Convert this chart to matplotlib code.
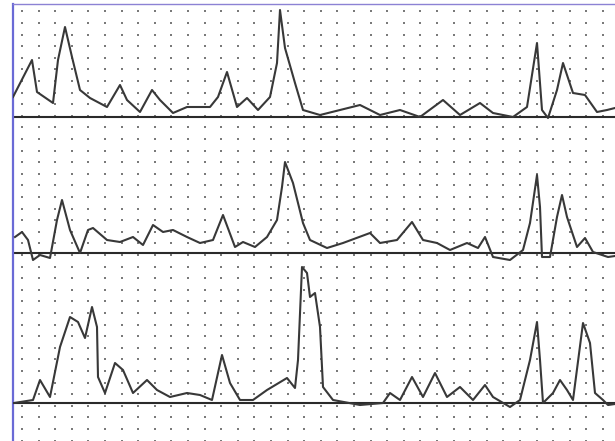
import numpy as np
import matplotlib
matplotlib.use("Agg")
import matplotlib.pyplot as plt

# === Trace data (time units, signal height above each baseline) ===
t_top = [0, 19, 24, 40, 45, 52, 59, 67, 77, 94, 107, 114, 127, 139, 147, 160, 174, 197,
         205, 214, 224, 234, 245, 257, 264, 267, 272, 282, 290, 307, 327, 347, 367, 387,
         407, 430, 447, 467, 480, 500, 514, 524, 529, 535, 544, 550, 560, 572, 584, 594, 602]
h_top = [20, 57, 25, 14, 57, 90, 60, 27, 19, 10, 32, 17, 5, 27, 17, 4, 10, 10,
         20, 45, 10, 19, 7, 20, 54, 107, 69, 34, 7, 2, 7, 12, 2, 7,
         0, 17, 2, 14, 4, 0, 10, 74, 7, -1, 27, 54, 24, 22, 5, 7, 9]

t_mid = [2, 9, 15, 20, 27, 37, 44, 49, 57, 67, 75, 80, 94, 107, 120, 130, 140, 150, 160,
         174, 187, 200, 210, 222, 230, 242, 254, 264, 269, 272, 280, 290, 297, 314, 330,
         357, 367, 384, 399, 410, 424, 437, 454, 465, 472, 480, 497, 510, 517, 524, 527,
         529, 537, 544, 549, 554, 564, 572, 580, 595, 602]
h_mid = [16, 21, 13, -7, -2, -5, 33, 53, 23, 0, 23, 25, 13, 11, 16, 8, 28, 21, 23,
         16, 10, 13, 38, 6, 11, 6, 16, 33, 66, 91, 70, 30, 13, 5, 10,
         20, 10, 13, 31, 13, 10, 3, 10, 5, 16, -4, -7, 3, 30, 78, 46,
         -4, -4, 36, 58, 36, 6, 15, 1, -4, -3]

t_bot = [1, 20, 27, 37, 47, 57, 65, 72, 79, 84, 85, 92, 102, 110, 120, 134, 144, 157,
         174, 187, 199, 209, 217, 227, 240, 254, 274, 282, 285, 289, 294, 297, 302, 307,
         310, 320, 347, 370, 377, 387, 399, 410, 422, 434, 447, 460, 472, 480, 497, 507,
         517, 524, 527, 530, 540, 547, 554, 560, 570, 577, 582, 590, 595, 602]
h_bot = [0, 3, 23, 6, 56, 86, 81, 65, 96, 76, 26, 10, 40, 33, 10, 23, 13, 6,
         10, 8, 3, 48, 20, 3, 3, 13, 25, 15, 43, 136, 130, 106, 110, 76,
         16, 3, -2, 0, 10, 3, 26, 6, 30, 6, 16, 3, 18, 6, -4, 3,
         43, 81, 43, 0, 10, 23, 13, 3, 80, 60, 10, 3, -2, -1]

traces = [(t_top, h_top, 324), (t_mid, h_mid, 188), (t_bot, h_bot, 38)]

fig = plt.figure(figsize=(6.15, 4.41), dpi=100)
ax = fig.add_axes([13 / 615, 0, 602 / 615, 437 / 441])
ax.set_xlim(0, 602)
ax.set_ylim(0, 437)

# dotted background grid
gx = np.arange(9, 602, 16.6)
gy = np.arange(441 - 11.4, 0, -11.6)
GX, GY = np.meshgrid(gx, gy)
ax.scatter(GX.ravel(), GY.ravel(), s=2.6, marker='s', color='#7a7a7a', linewidths=0, zorder=1)

for t, h, base in traces:
    ax.axhline(base, color='#2a2a2a', lw=1.5, zorder=2)
    ax.plot(t, np.array(h) + base, color='#383838', lw=1.5, zorder=3,
            solid_joinstyle='round')

ax.set_xticks([])
ax.set_yticks([])
for side in ['right', 'bottom']:
    ax.spines[side].set_visible(False)
ax.spines['left'].set_color('#6a6ad6')
ax.spines['left'].set_linewidth(1.6)
ax.spines['top'].set_color('#8c82d4')
ax.spines['top'].set_linewidth(1.0)

fig.savefig('out.png', dpi=100)
